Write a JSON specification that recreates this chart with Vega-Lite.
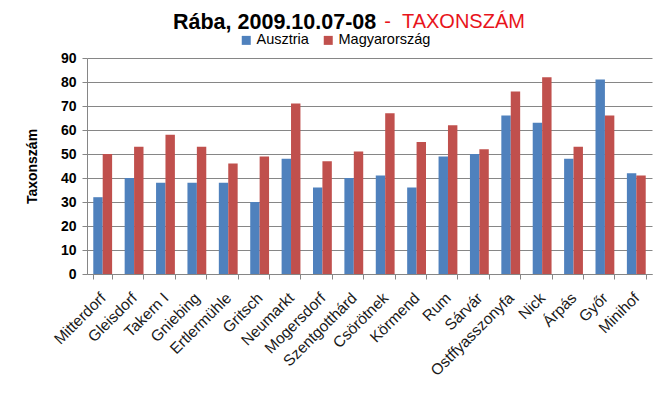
{
  "$schema": "https://vega.github.io/schema/vega-lite/v6.json",
  "width": 565,
  "height": 216,
  "autosize": {"type": "none"},
  "padding": {"left": 87, "top": 58, "right": 20, "bottom": 126},
  "background": "white",
  "title": {
    "text": "Rába, 2009.10.07-08",
    "subtitle": "\u200b\u00a0\u00a0\u00a0\u00a0\u00a0\u00a0\u00a0\u00a0\u00a0\u00a0\u00a0\u00a0\u00a0\u00a0\u00a0\u00a0\u00a0\u00a0\u00a0\u00a0\u00a0\u00a0\u00a0\u00a0\u00a0\u00a0\u00a0\u00a0\u00a0\u00a0\u00a0\u00a0\u00a0\u00a0\u00a0\u00a0\u00a0\u00a0-\u00a0\u00a0TAXONSZÁM",
    "anchor": "start",
    "frame": "group",
    "align": "left",
    "dx": 86,
    "offset": -1,
    "font": "Liberation Sans",
    "fontSize": 21.5,
    "fontWeight": "bold",
    "color": "black",
    "subtitleFont": "Liberation Sans",
    "subtitleFontSize": 20,
    "subtitleFontWeight": "normal",
    "subtitleColor": "#E8141B",
    "subtitlePadding": -22
  },
  "data": {
    "values": [
      {"hely": "Mitterdorf", "orszag": "Ausztria", "ertek": 32},
      {"hely": "Mitterdorf", "orszag": "Magyarország", "ertek": 50},
      {"hely": "Gleisdorf", "orszag": "Ausztria", "ertek": 40},
      {"hely": "Gleisdorf", "orszag": "Magyarország", "ertek": 53},
      {"hely": "Takern I", "orszag": "Ausztria", "ertek": 38},
      {"hely": "Takern I", "orszag": "Magyarország", "ertek": 58},
      {"hely": "Gniebing", "orszag": "Ausztria", "ertek": 38},
      {"hely": "Gniebing", "orszag": "Magyarország", "ertek": 53},
      {"hely": "Ertlermühle", "orszag": "Ausztria", "ertek": 38},
      {"hely": "Ertlermühle", "orszag": "Magyarország", "ertek": 46},
      {"hely": "Gritsch", "orszag": "Ausztria", "ertek": 30},
      {"hely": "Gritsch", "orszag": "Magyarország", "ertek": 49},
      {"hely": "Neumarkt", "orszag": "Ausztria", "ertek": 48},
      {"hely": "Neumarkt", "orszag": "Magyarország", "ertek": 71},
      {"hely": "Mogersdorf", "orszag": "Ausztria", "ertek": 36},
      {"hely": "Mogersdorf", "orszag": "Magyarország", "ertek": 47},
      {"hely": "Szentgotthárd", "orszag": "Ausztria", "ertek": 40},
      {"hely": "Szentgotthárd", "orszag": "Magyarország", "ertek": 51},
      {"hely": "Csörötnek", "orszag": "Ausztria", "ertek": 41},
      {"hely": "Csörötnek", "orszag": "Magyarország", "ertek": 67},
      {"hely": "Körmend", "orszag": "Ausztria", "ertek": 36},
      {"hely": "Körmend", "orszag": "Magyarország", "ertek": 55},
      {"hely": "Rum", "orszag": "Ausztria", "ertek": 49},
      {"hely": "Rum", "orszag": "Magyarország", "ertek": 62},
      {"hely": "Sárvár", "orszag": "Ausztria", "ertek": 50},
      {"hely": "Sárvár", "orszag": "Magyarország", "ertek": 52},
      {"hely": "Ostffyasszonyfa", "orszag": "Ausztria", "ertek": 66},
      {"hely": "Ostffyasszonyfa", "orszag": "Magyarország", "ertek": 76},
      {"hely": "Nick", "orszag": "Ausztria", "ertek": 63},
      {"hely": "Nick", "orszag": "Magyarország", "ertek": 82},
      {"hely": "Árpás", "orszag": "Ausztria", "ertek": 48},
      {"hely": "Árpás", "orszag": "Magyarország", "ertek": 53},
      {"hely": "Győr", "orszag": "Ausztria", "ertek": 81},
      {"hely": "Győr", "orszag": "Magyarország", "ertek": 66},
      {"hely": "Minihof", "orszag": "Ausztria", "ertek": 42},
      {"hely": "Minihof", "orszag": "Magyarország", "ertek": 41}
    ]
  },
  "mark": {"type": "bar"},
  "encoding": {
    "x": {
      "field": "hely",
      "type": "nominal",
      "sort": null,
      "scale": {"paddingInner": 0.4, "paddingOuter": 0.2},
      "axis": {
        "title": null,
        "labelAngle": -45,
        "labelAlign": "right",
        "labelBaseline": "middle",
        "labelPadding": 16,
        "labelFont": "Liberation Sans",
        "labelFontSize": 15.5,
        "labelColor": "#1a1a1a",
        "tickBand": "extent",
        "tickSize": 5,
        "tickColor": "#868686",
        "domainColor": "#868686",
        "grid": false,
        "labelOverlap": false
      }
    },
    "xOffset": {"field": "orszag", "type": "nominal"},
    "y": {
      "field": "ertek",
      "type": "quantitative",
      "scale": {"domain": [0, 90]},
      "axis": {
        "title": "Taxonszám",
        "titleFont": "Liberation Sans",
        "titleFontSize": 14,
        "titleFontWeight": "bold",
        "titleColor": "black",
        "titlePadding": 21,
        "values": [0, 10, 20, 30, 40, 50, 60, 70, 80, 90],
        "labelFont": "Liberation Sans",
        "labelFontSize": 14,
        "labelFontWeight": "bold",
        "labelColor": "black",
        "labelPadding": 6,
        "tickSize": 5,
        "tickColor": "#868686",
        "domainColor": "#868686",
        "gridColor": "#868686",
        "gridOpacity": 1
      }
    },
    "color": {
      "field": "orszag",
      "type": "nominal",
      "scale": {"domain": ["Ausztria", "Magyarország"], "range": ["#4F81BD", "#C0504D"]},
      "legend": {
        "title": null,
        "orient": "none",
        "direction": "horizontal",
        "legendX": 152,
        "legendY": -25,
        "symbolType": "square",
        "symbolSize": 81,
        "symbolStrokeWidth": 0,
        "labelFont": "Liberation Sans",
        "labelFontSize": 14.5,
        "labelColor": "black",
        "labelOffset": 3,
        "columnPadding": 12
      }
    }
  },
  "config": {"view": {"stroke": null}}
}
